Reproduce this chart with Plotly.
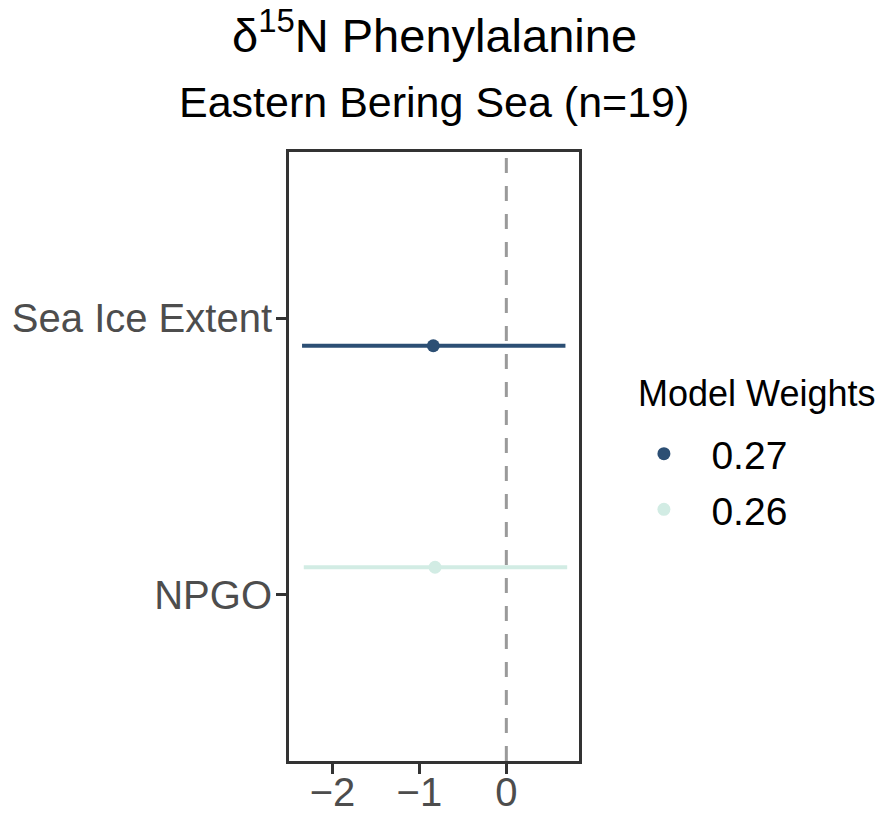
import plotly.graph_objects as go

# Model-averaged coefficient estimates with 95% intervals
categories = ["Sea Ice Extent", "NPGO"]
estimate = [-0.84, -0.82]
lower = [-2.35, -2.33]
upper = [0.68, 0.70]
weights = ["0.27", "0.26"]
colors = ["#2c4f74", "#d2ece4"]

x_ticks = [-2, -1, 0]
x_tick_labels = ["\u22122", "\u22121", "0"]

FONT = "Liberation Sans"
INK = "#333333"
TICK_TXT = "#4d4d4d"

# discrete y positions (top to bottom) with a small dodge per group
ypos = {c: len(categories) - i for i, c in enumerate(categories)}
dodge = {"Sea Ice Extent": -0.1, "NPGO": 0.1}

fig = go.Figure()
for cat, est, lo, hi, w, col in zip(categories, estimate, lower, upper, weights, colors):
    fig.add_trace(go.Scatter(
        x=[est],
        y=[ypos[cat] + dodge[cat]],
        mode="markers",
        name=w,
        legendgroup=cat,
        marker=dict(color=col, size=13),
        error_x=dict(type="data", symmetric=False,
                     array=[hi - est], arrayminus=[est - lo],
                     color=col, thickness=4, width=0),
        showlegend=True,
    ))

# reference line at zero
fig.add_shape(type="line", xref="x", yref="paper", x0=0, x1=0, y0=0, y1=1,
              line=dict(color="#9a9a9a", width=3, dash="15px,13px"), layer="below")

fig.add_annotation(text="\u03b4<sup>15</sup>N Phenylalanine", xref="paper", yref="paper",
                   x=0.5, y=1.197, xanchor="center", yanchor="middle", showarrow=False,
                   font=dict(family=FONT, size=47, color="black"))
fig.add_annotation(text="Eastern Bering Sea (n=19)", xref="paper", yref="paper",
                   x=0.5, y=1.082, xanchor="center", yanchor="middle", showarrow=False,
                   font=dict(family=FONT, size=43, color="black"))
# legend heading
fig.add_annotation(text="Model Weights", xref="paper", yref="paper",
                   x=1.197, y=0.603, xanchor="left", yanchor="middle", showarrow=False,
                   font=dict(family=FONT, size=36, color="black"))

fig.update_layout(
    width=884, height=813,
    margin=dict(l=289, r=305, t=152, b=52, autoexpand=False),
    paper_bgcolor="white", plot_bgcolor="white",
    font=dict(family=FONT, color="black"),
    xaxis=dict(range=[-2.50, 0.836], tickvals=x_ticks, ticktext=x_tick_labels,
               showgrid=False, zeroline=False, showline=True, mirror=True, automargin=False,
               linecolor=INK, linewidth=3, ticks="outside", ticklen=10, tickwidth=3,
               ticklabelstandoff=-16,
               tickcolor=INK, tickfont=dict(family=FONT, size=40, color=TICK_TXT)),
    yaxis=dict(range=[0.4, 2.6], tickvals=[ypos[c] for c in categories], ticktext=categories,
               showgrid=False, zeroline=False, showline=True, mirror=True, automargin=False,
               linecolor=INK, linewidth=3, ticks="outside", ticklen=10, tickwidth=3,
               ticklabelstandoff=-4,
               tickcolor=INK, tickfont=dict(family=FONT, size=40, color=TICK_TXT)),
    legend=dict(font=dict(family=FONT, size=39, color="black"),
                x=1.129, y=0.557, xanchor="left", yanchor="top",
                bgcolor="rgba(0,0,0,0)", itemwidth=85, tracegroupgap=2),
)

fig.write_html("out.html")
